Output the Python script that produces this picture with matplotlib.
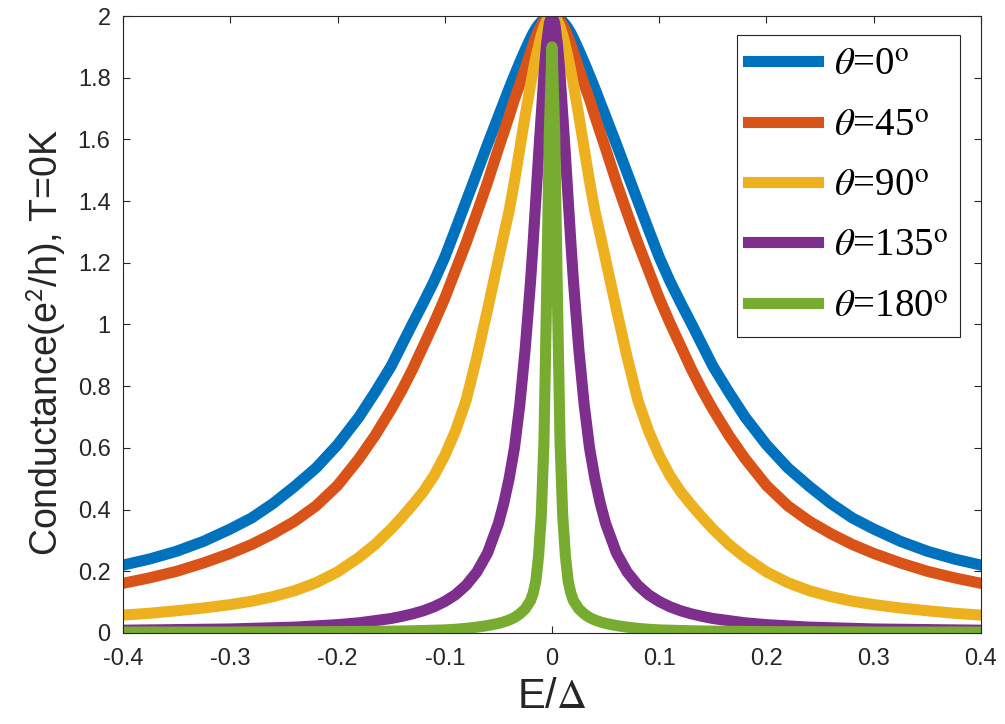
import numpy as np
import matplotlib
matplotlib.use('Agg')
import matplotlib.pyplot as plt

# Data (curves are symmetric about E=0, so only E>=0 is listed)
e_half = [0, 0.0025, 0.005, 0.0075, 0.01, 0.0125, 0.015, 0.0175, 0.02,
          0.025, 0.03, 0.035, 0.04, 0.045, 0.05,
          0.06, 0.07, 0.08, 0.09, 0.1,
          0.11, 0.12, 0.13, 0.14, 0.15,
          0.165, 0.18, 0.2,
          0.22, 0.24, 0.26, 0.28, 0.3,
          0.325, 0.35, 0.375, 0.4]
g_0 = [2.000, 1.999, 1.996, 1.990, 1.982, 1.972, 1.960, 1.945, 1.928,
       1.890, 1.850, 1.808, 1.765, 1.720, 1.675,
       1.585, 1.492, 1.400, 1.308, 1.218,
       1.140, 1.070, 1.003, 0.934, 0.865,
       0.780, 0.700, 0.610,
       0.535, 0.475, 0.420, 0.373, 0.337,
       0.297, 0.265, 0.240, 0.220]
g_45 = [2.000, 1.998, 1.993, 1.984, 1.970, 1.953, 1.932, 1.908, 1.882,
        1.830, 1.778, 1.730, 1.675, 1.622, 1.570,
        1.462, 1.362, 1.265, 1.175, 1.085,
        1.005, 0.930, 0.855, 0.787, 0.725,
        0.640, 0.565, 0.478,
        0.412, 0.362, 0.322, 0.287, 0.258,
        0.227, 0.200, 0.179, 0.161]
g_90 = [2.000, 1.996, 1.985, 1.965, 1.937, 1.903, 1.865, 1.822, 1.776,
        1.677, 1.570, 1.464, 1.368, 1.290, 1.210,
        1.050, 0.895, 0.755, 0.655, 0.575,
        0.510, 0.458, 0.415, 0.375, 0.337,
        0.287, 0.245, 0.198,
        0.163, 0.137, 0.118, 0.103, 0.092,
        0.081, 0.072, 0.064, 0.058]
g_135 = [2.000, 1.977, 1.910, 1.810, 1.680, 1.550, 1.410, 1.270, 1.140,
         0.920, 0.740, 0.600, 0.500, 0.420, 0.355,
         0.260, 0.198, 0.155, 0.124, 0.102,
         0.085, 0.072, 0.062, 0.054, 0.047,
         0.040, 0.033, 0.027,
         0.023, 0.019, 0.017, 0.015, 0.013,
         0.012, 0.011, 0.010, 0.009]
g_180 = [1.900, 1.620, 1.100, 0.620, 0.380, 0.250, 0.170, 0.130, 0.105,
         0.078, 0.062, 0.050, 0.042, 0.036, 0.031,
         0.024, 0.019, 0.015, 0.012, 0.010,
         0.009, 0.008, 0.007, 0.0065, 0.006,
         0.0055, 0.005, 0.0045,
         0.004, 0.004, 0.0035, 0.0035, 0.003,
         0.003, 0.003, 0.003, 0.003]
labels = ['0', '45', '90', '135', '180']
colors = ['#0072BD', '#D95319', '#EDB120', '#7E2F8E', '#77AC30']

plt.rcParams['font.family'] = ['Liberation Sans', 'DejaVu Sans']
plt.rcParams['mathtext.fontset'] = 'stix'
plt.rcParams['axes.unicode_minus'] = False


def mirror(vals, sign=1):
    vals = np.asarray(vals, dtype=float)
    return np.concatenate([sign * vals[:0:-1], vals])


E = mirror(e_half, -1)

fig = plt.figure(figsize=(10.05, 7.24), dpi=100)
ax = fig.add_axes([0.1224, 0.1257, 0.8537, 0.8522])

for g, lab, c in zip([g_0, g_45, g_90, g_135, g_180], labels, colors):
    ax.plot(E, mirror(g), color=c, linewidth=8, solid_joinstyle='round',
            label=r'$\theta$=' + lab + r'$^{\mathrm{o}}$')

ax.set_xlim(-0.4, 0.4)
ax.set_ylim(0, 2)
ax.set_xticks(np.arange(-0.4, 0.41, 0.1))
ax.set_xticklabels(['-0.4', '-0.3', '-0.2', '-0.1', '0', '0.1', '0.2', '0.3', '0.4'])
ax.set_yticks(np.arange(0, 2.01, 0.2))
ax.set_yticklabels(['0', '0.2', '0.4', '0.6', '0.8', '1', '1.2', '1.4', '1.6', '1.8', '2'])
ax.tick_params(direction='in', top=True, right=True, length=5, width=0.8,
               labelsize=17, colors='#262626')
ax.tick_params(axis='x', pad=11)
ax.tick_params(axis='y', pad=9)
for s in ax.spines.values():
    s.set_color('#262626')
    s.set_linewidth(0.8)

ax.set_xlabel(r'E/$\Delta$', fontsize=30, color='#262626')
ax.xaxis.set_label_coords(0.5, -0.072)
ax.set_ylabel(r'Conductance(e$^{\mathsf{2}}$/h), T=0K', fontsize=27, color='#262626')
ax.yaxis.set_label_coords(-0.064, 0.47)

leg = ax.legend(loc='upper right', bbox_to_anchor=(0.9755, 0.969), borderaxespad=0,
                fancybox=False, framealpha=1, edgecolor='#262626',
                prop={'family': 'Liberation Serif', 'size': 28},
                handlelength=1.8, handletextpad=0.4, labelspacing=0.6,
                borderpad=0.3)
leg.get_frame().set_linewidth(0.8)

fig.savefig('out.png', dpi=100)
